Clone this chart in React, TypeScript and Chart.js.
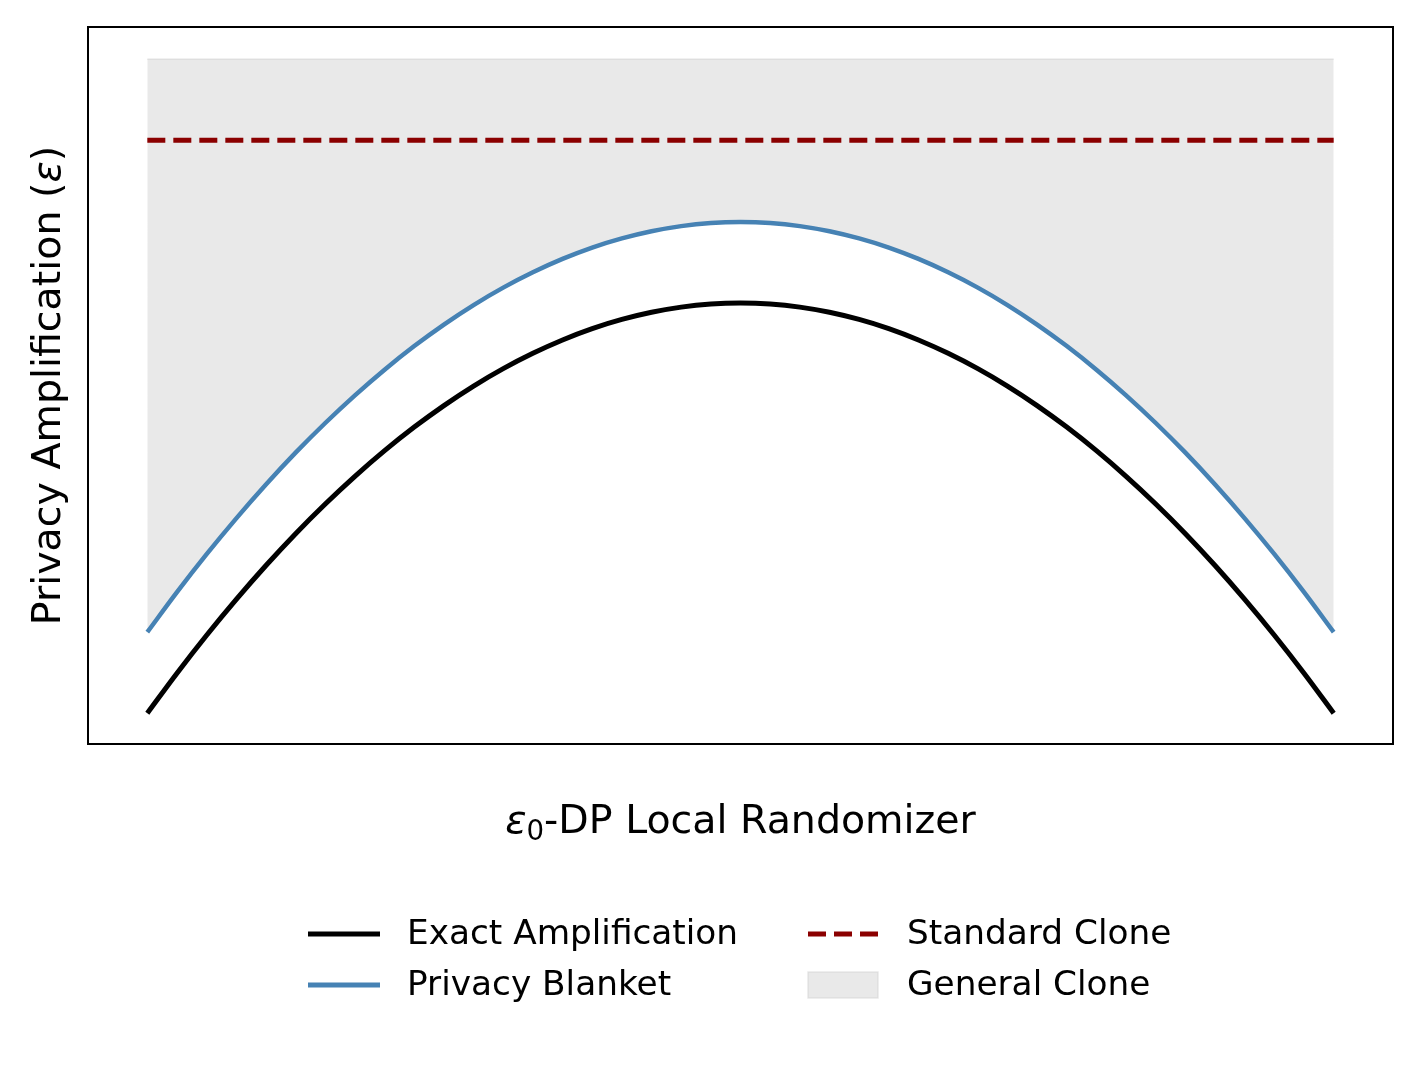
import React, { useEffect, useRef } from "react";
import { Chart, registerables } from "chart.js";

Chart.register(...registerables);

// ε0 values (normalized x positions)
const epsilon0 = [
  0, 0.025, 0.05, 0.075, 0.1, 0.125, 0.15, 0.175, 0.2, 0.225, 0.25, 0.275, 0.3, 0.325, 0.35, 0.375, 0.4, 0.425, 0.45, 0.475, 0.5,
  0.525, 0.55, 0.575, 0.6, 0.625, 0.65, 0.675, 0.7, 0.725, 0.75, 0.775, 0.8, 0.825, 0.85, 0.875, 0.9, 0.925, 0.95, 0.975, 1,
];
const exactAmplification = [
  0.430, 0.988, 1.517, 2.017, 2.489, 2.933, 3.347, 3.733, 4.091, 4.420, 4.720, 4.992, 5.235, 5.449, 5.635, 5.793, 5.921, 6.021, 6.093, 6.136, 6.150,
  6.136, 6.093, 6.021, 5.921, 5.793, 5.635, 5.449, 5.235, 4.992, 4.720, 4.420, 4.091, 3.733, 3.347, 2.933, 2.489, 2.017, 1.517, 0.988, 0.430,
];
const privacyBlanket = [
  1.560, 2.118, 2.647, 3.147, 3.619, 4.063, 4.477, 4.863, 5.221, 5.550, 5.850, 6.122, 6.365, 6.579, 6.765, 6.923, 7.051, 7.151, 7.223, 7.266, 7.280,
  7.266, 7.223, 7.151, 7.051, 6.923, 6.765, 6.579, 6.365, 6.122, 5.850, 5.550, 5.221, 4.863, 4.477, 4.063, 3.619, 3.147, 2.647, 2.118, 1.560,
];
const standardCloneLevel = [8.42];
const generalCloneTopLevel = [9.55];

const seriesLabels = ["Exact Amplification", "Privacy Blanket", "Standard Clone", "General Clone"];
const xTitleMain = "-DP Local Randomizer";
const yTitleMain = "Privacy Amplification (";

const FONT = "'DejaVu Sans', sans-serif";

const pts = (ys: number[]) => epsilon0.map((x, i) => ({ x, y: ys[i] }));
const flat = (level: number[]) => epsilon0.map((x) => ({ x, y: level[0] }));

export default function App() {
  const ref = useRef<HTMLCanvasElement | null>(null);

  useEffect(() => {
    const canvas = ref.current;
    if (!canvas) return;

    const decor = {
      id: "decor",
      afterDraw(chart: any) {
        const { ctx, chartArea } = chart;
        const { left, top, right, bottom } = chartArea;
        ctx.save();
        // frame
        ctx.strokeStyle = "#000";
        ctx.lineWidth = 2;
        ctx.strokeRect(left, top, right - left, bottom - top);

        ctx.fillStyle = "#000";
        const fs = 39.5;
        ctx.textBaseline = "alphabetic";
        ctx.textAlign = "left";

        // x title with subscript
        const eps = "ε";
        const sub = "0";
        ctx.font = `italic ${fs}px ${FONT}`;
        const wEps = ctx.measureText(eps).width;
        ctx.font = `${fs * 0.7}px ${FONT}`;
        const wSub = ctx.measureText(sub).width;
        ctx.font = `${fs}px ${FONT}`;
        const wMain = ctx.measureText(xTitleMain).width;
        const total = wEps + wSub + wMain;
        const cx = (left + right) / 2;
        let x0 = cx - total / 2;
        const base = 833;
        ctx.font = `italic ${fs}px ${FONT}`;
        ctx.fillText(eps, x0, base);
        x0 += wEps;
        ctx.font = `${fs * 0.7}px ${FONT}`;
        ctx.fillText(sub, x0, base + 7);
        x0 += wSub;
        ctx.font = `${fs}px ${FONT}`;
        ctx.fillText(xTitleMain, x0, base);

        // y title (rotated)
        ctx.save();
        ctx.translate(60, (top + bottom) / 2);
        ctx.rotate(-Math.PI / 2);
        ctx.font = `${fs}px ${FONT}`;
        const w1 = ctx.measureText(yTitleMain).width;
        const w3 = ctx.measureText(")").width;
        ctx.font = `italic ${fs}px ${FONT}`;
        const w2 = ctx.measureText("ε").width;
        let yx = -(w1 + w2 + w3) / 2;
        ctx.font = `${fs}px ${FONT}`;
        ctx.fillText(yTitleMain, yx, 0);
        yx += w1;
        ctx.font = `italic ${fs}px ${FONT}`;
        ctx.fillText("ε", yx, 0);
        yx += w2;
        ctx.font = `${fs}px ${FONT}`;
        ctx.fillText(")", yx, 0);
        ctx.restore();

        // legend
        const ds = chart.data.datasets;
        const items = [
          { label: ds[0].label, type: "line", color: ds[0].borderColor, dash: [], x: 308, y: 934 },
          { label: ds[1].label, type: "line", color: ds[1].borderColor, dash: [], x: 308, y: 985 },
          { label: ds[2].label, type: "line", color: ds[2].borderColor, dash: [18, 8], x: 808, y: 934 },
          { label: ds[3].label, type: "patch", color: ds[3].backgroundColor, dash: [], x: 808, y: 985 },
        ];
        ctx.font = `34.3px ${FONT}`;
        ctx.textBaseline = "middle";
        for (const it of items) {
          if (it.type === "line") {
            ctx.strokeStyle = it.color;
            ctx.lineWidth = 5;
            ctx.setLineDash(it.dash);
            ctx.beginPath();
            ctx.moveTo(it.x, it.y);
            ctx.lineTo(it.x + 72, it.y);
            ctx.stroke();
            ctx.setLineDash([]);
          } else {
            ctx.fillStyle = it.color;
            ctx.fillRect(it.x, it.y - 13, 70, 26);
            ctx.strokeStyle = "rgba(211,211,211,0.5)";
            ctx.lineWidth = 1.5;
            ctx.strokeRect(it.x, it.y - 13, 70, 26);
          }
          ctx.fillStyle = "#000";
          ctx.fillText(it.label, it.x + 99, it.y + 1);
        }
        ctx.restore();
      },
    };

    const chart = new Chart(canvas, {
      type: "line",
      data: {
        datasets: [
          {
            label: seriesLabels[0],
            data: pts(exactAmplification),
            borderColor: "#000000",
            borderWidth: 5,
            pointRadius: 0,
            cubicInterpolationMode: "monotone",
            fill: false,
            order: 0,
          },
          {
            label: seriesLabels[1],
            data: pts(privacyBlanket),
            borderColor: "#4682b4",
            borderWidth: 4.5,
            pointRadius: 0,
            cubicInterpolationMode: "monotone",
            fill: false,
            order: 1,
          },
          {
            label: seriesLabels[2],
            data: flat(standardCloneLevel),
            borderColor: "#8b0000",
            borderWidth: 5,
            borderDash: [18, 8],
            pointRadius: 0,
            fill: false,
            order: 2,
          },
          {
            label: seriesLabels[3],
            data: flat(generalCloneTopLevel),
            borderColor: "rgba(211,211,211,0.6)",
            backgroundColor: "rgba(211,211,211,0.5)",
            borderWidth: 1.5,
            pointRadius: 0,
            fill: { target: 1 },
            order: 3,
          },
        ],
      },
      options: {
        responsive: false,
        animation: false,
        layout: { padding: { left: 88, top: 27, right: 27, bottom: 321 } },
        plugins: { legend: { display: false }, tooltip: { enabled: false } },
        scales: {
          x: { type: "linear", min: -0.05, max: 1.05, display: false },
          y: { type: "linear", min: 0, max: 10, display: false },
        },
      },
      plugins: [decor],
    } as any);

    return () => chart.destroy();
  }, []);

  return (
    <div style={{ position: "absolute", left: 0, top: 0, width: 1420, height: 1065, background: "#fff" }}>
      <canvas ref={ref} width={1420} height={1065} style={{ width: 1420, height: 1065, display: "block" }} />
    </div>
  );
}
